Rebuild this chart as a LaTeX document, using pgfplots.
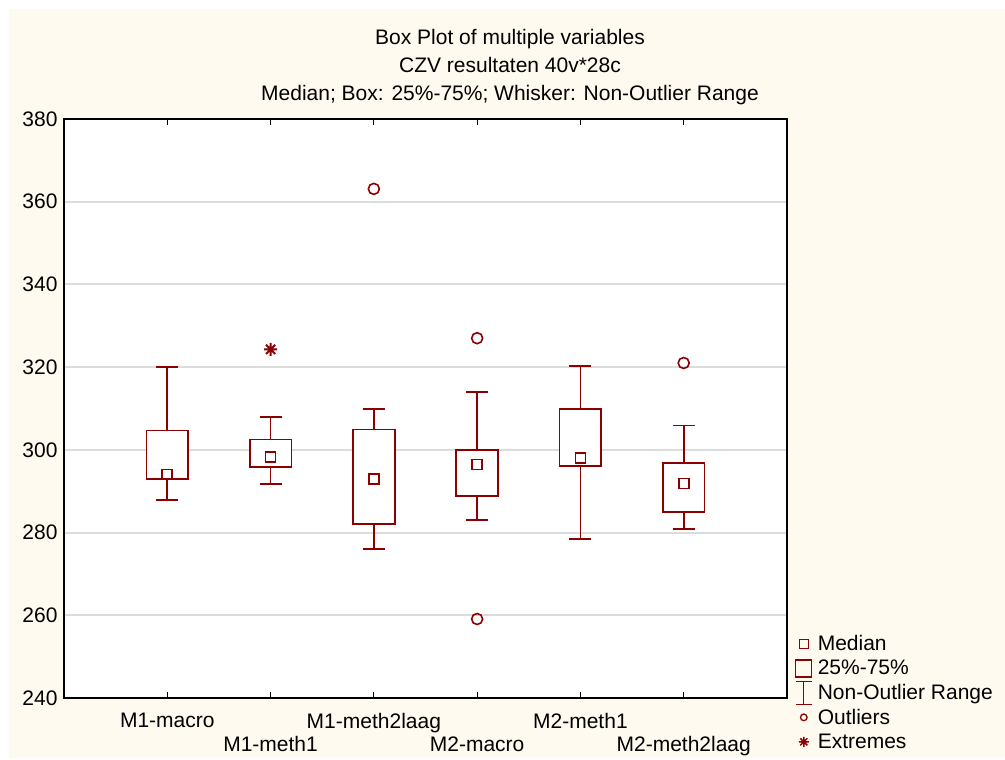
\documentclass[border=0pt]{standalone}
\usepackage{pgfplots}
\pgfplotsset{compat=1.18}
\usepgfplotslibrary{statistics}
\usepackage{fontspec}
\setmainfont{Liberation Sans}
\definecolor{dred}{RGB}{139,0,0}
\definecolor{cream}{RGB}{255,250,240}
\definecolor{gridc}{RGB}{220,220,220}

\pgfdeclareplotmark{ast8}{%
  \pgfpathmoveto{\pgfqpoint{0pt}{\pgfplotmarksize}}\pgfpathlineto{\pgfqpoint{0pt}{-\pgfplotmarksize}}%
  \pgfpathmoveto{\pgfqpoint{\pgfplotmarksize}{0pt}}\pgfpathlineto{\pgfqpoint{-\pgfplotmarksize}{0pt}}%
  \pgfpathmoveto{\pgfqpoint{0.707\pgfplotmarksize}{0.707\pgfplotmarksize}}\pgfpathlineto{\pgfqpoint{-0.707\pgfplotmarksize}{-0.707\pgfplotmarksize}}%
  \pgfpathmoveto{\pgfqpoint{-0.707\pgfplotmarksize}{0.707\pgfplotmarksize}}\pgfpathlineto{\pgfqpoint{0.707\pgfplotmarksize}{-0.707\pgfplotmarksize}}%
  \pgfusepathqstroke}

\newcommand{\fs}{\fontsize{21}{24}\selectfont}

\begin{document}
\begin{tikzpicture}
\fill[white] (0pt,0pt) rectangle (1005pt,758pt);
\fill[cream] (9pt,0pt) rectangle (1005pt,749pt);
\node[font=\fs] at (510pt,719pt) {Box Plot of multiple variables};
\node[font=\fs] at (510pt,693pt) {CZV resultaten 40v*28c};
\node[font=\fs] at (510pt,663pt) {Median; Box: 25\%-75\%; Whisker: Non-Outlier Range};
\begin{axis}[
  at={(64pt,60pt)}, anchor=south west,
  scale only axis, width=723pt, height=579pt,
  xmin=0, xmax=7, ymin=240, ymax=380,
  axis background/.style={fill=white},
  axis line style={black, line width=1.8pt},
  tick align=inside,
  major tick length=6pt,
  xtick={1,3,5}, xticklabels={M1-macro,M1-meth2laag,M2-meth1},
  extra x ticks={2,4,6}, extra x tick labels={M1-meth1,M2-macro,M2-meth2laag},
  xticklabel style={yshift=-12pt},
  extra x tick style={xticklabel style={yshift=-23pt}},
  x tick style={black, line width=1pt},
  ytick={240,260,...,380},
  y tick style={draw=none},
  yticklabel style={xshift=-3pt},
  ymajorgrids, grid style={gridc, line width=2pt},
  ticklabel style={font=\fs},
  /pgf/number format/assume math mode=true,
  boxplot/draw direction=y,
  boxplot/box extend=0.404,
  boxplot/whisker extend=0.213,
  boxplot/every box/.style={fill=white},
  boxplot/draw/median/.code={},
  legend style={at={(1.011,0.115)}, anchor=north west, draw=none, fill=none,
    font=\fs, inner sep=0pt, row sep=0pt},
  legend cell align=left,
]
\addplot[dred, line width=1.8pt, forget plot, boxplot prepared={draw position=1,
  lower whisker=287.9, lower quartile=292.9, median=294, upper quartile=304.7, upper whisker=320}] coordinates {};
\addplot[dred, line width=1.8pt, forget plot, boxplot prepared={draw position=2,
  lower whisker=291.7, lower quartile=295.9, median=298.3, upper quartile=302.5, upper whisker=307.9}] coordinates {};
\addplot[dred, line width=1.8pt, forget plot, boxplot prepared={draw position=3,
  lower whisker=276, lower quartile=282, median=293, upper quartile=304.9, upper whisker=309.9}] coordinates {};
\addplot[dred, line width=1.8pt, forget plot, boxplot prepared={draw position=4,
  lower whisker=283, lower quartile=288.9, median=296.5, upper quartile=300, upper whisker=314}] coordinates {};
\addplot[dred, line width=1.8pt, forget plot, boxplot prepared={draw position=5,
  lower whisker=278.4, lower quartile=296.1, median=298, upper quartile=309.9, upper whisker=320.3}] coordinates {};
\addplot[dred, line width=1.8pt, forget plot, boxplot prepared={draw position=6,
  lower whisker=280.9, lower quartile=285, median=291.9, upper quartile=296.9, upper whisker=305.9}] coordinates {};
% medians
\addplot[only marks, mark=square, mark size=5pt, dred, line width=1.6pt, forget plot]
  coordinates {(1,294) (2,298.3) (3,293) (4,296.5) (5,298) (6,291.9)};
% outliers
\addplot[only marks, mark=o, mark size=5.5pt, dred, line width=1.6pt, forget plot]
  coordinates {(3,363.1) (4,327) (4,259.1) (6,321)};
% extremes
\addplot[only marks, mark=ast8, mark size=6.5pt, dred, line width=2pt, forget plot]
  coordinates {(2,324.3)};
% legend
\addlegendimage{legend image code/.code={\path[draw=none,fill=none] (0pt,-12.25pt) rectangle (20pt,12.25pt);
  \draw[dred,line width=1.3pt] (3.5pt,-4.5pt) rectangle (12.5pt,4.5pt);}}
\addlegendentry{Median}
\addlegendimage{legend image code/.code={\path[draw=none,fill=none] (0pt,-12.25pt) rectangle (20pt,12.25pt);
  \draw[dred,line width=1.3pt] (0pt,-8.5pt) rectangle (16pt,8.5pt);}}
\addlegendentry{25\%-75\%}
\addlegendimage{legend image code/.code={\path[draw=none,fill=none] (0pt,-12.25pt) rectangle (20pt,12.25pt);
  \draw[dred,line width=1.3pt] (0pt,-11.5pt) -- (16pt,-11.5pt) (8pt,-11.5pt) -- (8pt,11.5pt) (0pt,11.5pt) -- (16pt,11.5pt);}}
\addlegendentry{Non-Outlier Range}
\addlegendimage{legend image code/.code={\path[draw=none,fill=none] (0pt,-12.25pt) rectangle (20pt,12.25pt);
  \draw[dred,line width=1.3pt] (8pt,0pt) circle (3.3pt);}}
\addlegendentry{Outliers}
\addlegendimage{legend image code/.code={\path[draw=none,fill=none] (0pt,-12.25pt) rectangle (20pt,12.25pt);
  \draw[dred,line width=1.5pt] plot[mark=ast8, mark size=5pt] coordinates {(8pt,0pt)};}}
\addlegendentry{Extremes}
\end{axis}
\end{tikzpicture}
\end{document}
